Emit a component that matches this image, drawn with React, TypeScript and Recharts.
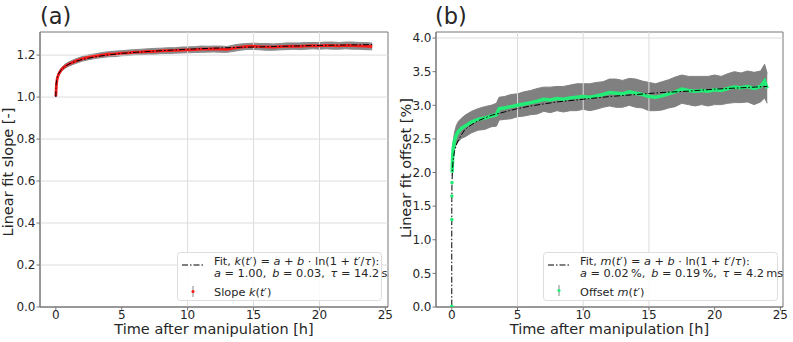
import React from 'react';
import {
  ComposedChart,
  Line,
  Area,
  Scatter,
  XAxis,
  YAxis,
  ReferenceLine,
  ReferenceArea,
} from 'recharts';

const FONT = '"DejaVu Sans", Verdana, sans-serif';

// ---------- shared axis ticks ----------
const xTicks = [0, 5, 10, 15, 20, 25];
const yTicksA = [0, 0.2, 0.4, 0.6, 0.8, 1.0, 1.2];
const yTicksB = [0, 0.5, 1.0, 1.5, 2.0, 2.5, 3.0, 3.5, 4.0];
const xDomain: [number, number] = [-1.2, 25.2];
const yDomainA: [number, number] = [0, 1.31];
const yDomainB: [number, number] = [0, 4.09];

// ---------- panel (a): slope k(t') ----------
const timeA = [0, 0.05, 0.1, 0.2, 0.35, 0.5, 0.75, 1, 1.5, 2, 2.5, 3, 3.5, 4, 4.5, 5, 5.5, 6, 6.5, 7, 7.5, 8, 8.5, 9, 9.5, 10, 10.5, 11, 11.5, 12, 12.5, 13, 13.5, 14, 14.5, 15, 15.5, 16, 16.5, 17, 17.5, 18, 18.5, 19, 19.5, 20, 20.5, 21, 21.5, 22, 22.5, 23, 23.5, 24];
const slopeA = [1.003, 1.062, 1.086, 1.107, 1.124, 1.136, 1.149, 1.158, 1.171, 1.182, 1.19, 1.195, 1.2, 1.204, 1.206, 1.209, 1.211, 1.214, 1.215, 1.217, 1.218, 1.22, 1.221, 1.222, 1.224, 1.225, 1.226, 1.228, 1.228, 1.229, 1.228, 1.227, 1.233, 1.238, 1.241, 1.242, 1.24, 1.239, 1.238, 1.24, 1.242, 1.243, 1.242, 1.244, 1.245, 1.244, 1.246, 1.245, 1.244, 1.246, 1.245, 1.244, 1.243, 1.241];
const slopeErrA = [0.004, 0.006, 0.007, 0.008, 0.009, 0.009, 0.01, 0.01, 0.011, 0.011, 0.012, 0.011, 0.012, 0.012, 0.013, 0.012, 0.013, 0.012, 0.013, 0.013, 0.014, 0.013, 0.014, 0.013, 0.014, 0.014, 0.014, 0.015, 0.014, 0.014, 0.015, 0.014, 0.015, 0.015, 0.014, 0.015, 0.015, 0.016, 0.015, 0.015, 0.016, 0.015, 0.016, 0.016, 0.015, 0.016, 0.016, 0.017, 0.016, 0.016, 0.017, 0.016, 0.017, 0.016];
const fitTimeA = [0, 0.01, 0.03, 0.06, 0.1, 0.2, 0.35, 0.5, 0.75, 1, 1.5, 2, 3, 4, 5, 6, 8, 10, 12, 14, 16, 18, 20, 22, 24];
const fitA = [1.0, 1.04, 1.065, 1.08, 1.092, 1.11, 1.125, 1.135, 1.148, 1.157, 1.17, 1.179, 1.192, 1.201, 1.208, 1.213, 1.221, 1.228, 1.233, 1.237, 1.24, 1.243, 1.246, 1.248, 1.25];

// ---------- panel (b): offset m(t') ----------
const timeB = [0.03, 0.06, 0.1, 0.2, 0.35, 0.5, 0.75, 1, 1.5, 2, 2.5, 3, 3.4, 3.6, 4, 4.5, 5, 5.5, 6, 6.5, 7, 7.5, 8, 8.5, 9, 9.5, 10, 10.5, 11, 11.5, 12, 12.5, 13, 13.5, 14, 14.5, 15, 15.5, 16, 16.5, 17, 17.5, 18, 18.5, 19, 19.5, 20, 20.5, 21, 21.5, 22, 22.5, 23, 23.5, 23.8, 24];
const offsetB = [2.0, 2.2, 2.34, 2.47, 2.56, 2.61, 2.66, 2.69, 2.75, 2.79, 2.81, 2.84, 2.86, 2.95, 2.96, 2.98, 3.0, 3.02, 3.04, 3.06, 3.09, 3.08, 3.1, 3.09, 3.11, 3.12, 3.13, 3.12, 3.14, 3.16, 3.19, 3.18, 3.17, 3.2, 3.18, 3.16, 3.13, 3.12, 3.14, 3.17, 3.2, 3.24, 3.22, 3.21, 3.22, 3.21, 3.23, 3.22, 3.25, 3.27, 3.26, 3.28, 3.25, 3.28, 3.36, 3.25];
const offsetErrB = [0.05, 0.08, 0.1, 0.12, 0.14, 0.15, 0.15, 0.16, 0.16, 0.16, 0.17, 0.16, 0.17, 0.17, 0.17, 0.18, 0.17, 0.18, 0.18, 0.19, 0.18, 0.19, 0.18, 0.19, 0.19, 0.2, 0.19, 0.2, 0.2, 0.19, 0.2, 0.21, 0.2, 0.2, 0.21, 0.2, 0.21, 0.2, 0.21, 0.21, 0.22, 0.21, 0.21, 0.22, 0.21, 0.22, 0.22, 0.21, 0.22, 0.23, 0.22, 0.23, 0.24, 0.23, 0.25, 0.22];
const earlyTimeB = [0, 0.0015, 0.006, 0.015];
const earlyOffsetB = [0.01, 1.3, 1.65, 1.85];
const fitTimeB = [0, 0.0005, 0.002, 0.005, 0.01, 0.02, 0.05, 0.1, 0.2, 0.4, 0.7, 1, 1.5, 2, 3, 4, 5, 6, 8, 10, 12, 14, 16, 18, 20, 22, 24];
const fitB = [0.02, 1.15, 1.42, 1.6, 1.73, 1.86, 2.04, 2.17, 2.31, 2.44, 2.55, 2.64, 2.71, 2.77, 2.85, 2.9, 2.95, 2.99, 3.05, 3.09, 3.13, 3.16, 3.19, 3.21, 3.24, 3.26, 3.28];

// ---------- tables built from the arrays ----------
const rowsA = timeA.map((t, i) => ({ t, v: slopeA[i], band: [slopeA[i] - slopeErrA[i], slopeA[i] + slopeErrA[i]] }));
const fitRowsA = fitTimeA.map((t, i) => ({ t, fit: fitA[i] }));
const rowsB = timeB.map((t, i) => ({ t, v: offsetB[i], band: [offsetB[i] - offsetErrB[i], offsetB[i] + offsetErrB[i]] }));
const earlyRowsB = earlyTimeB.map((t, i) => ({ t, v: earlyOffsetB[i] }));
const fitRowsB = fitTimeB.map((t, i) => ({ t, fit: fitB[i] }));

const AXIS = '#777777';
const GRID = '#dcdcdc';
const TXT = '#262626';
const GREEN = '#22ee77';
const tickStyle = { fill: TXT, fontSize: 12, fontFamily: FONT };

const SmallDot = (props: any) => (
  <circle cx={props.cx} cy={props.cy} r={1.8} fill={GREEN} />
);

const Panel = ({ rows, fitRows, early, yDomain, yTicks, yWidth, right, color, lineW, errColor, hGrid, vGrid }: any) => (
  <ComposedChart
    width={yWidth === 40 ? 400 : 393}
    height={342}
    data={rows}
    margin={{ top: 32, right, bottom: 0, left: 0 }}
  >
    {hGrid.map((y: number) => (
      <ReferenceLine key={'h' + y} y={y} stroke={GRID} strokeWidth={1} />
    ))}
    {vGrid.map((x: number) => (
      <ReferenceLine key={'v' + x} x={x} stroke={GRID} strokeWidth={1} />
    ))}
    <XAxis
      dataKey="t"
      type="number"
      domain={xDomain}
      ticks={xTicks}
      allowDataOverflow
      height={35}
      tick={tickStyle}
      tickSize={3.5}
      tickMargin={0}
      axisLine={{ stroke: AXIS }}
      tickLine={{ stroke: AXIS }}
    />
    <YAxis
      type="number"
      domain={yDomain}
      ticks={yTicks}
      allowDataOverflow
      width={yWidth}
      tick={tickStyle}
      tickSize={3.5}
      tickMargin={1}
      tickFormatter={(v: number) => v.toFixed(1)}
      axisLine={{ stroke: AXIS }}
      tickLine={{ stroke: AXIS }}
    />
    <Area
      dataKey="band"
      type="linear"
      stroke={errColor}
      strokeWidth={1}
      fill={errColor}
      fillOpacity={1}
      isAnimationActive={false}
      dot={false}
      activeDot={false}
    />
    <Line
      dataKey="v"
      type="linear"
      stroke={color}
      strokeWidth={lineW}
      dot={false}
      activeDot={false}
      isAnimationActive={false}
    />
    {early ? (
      <Scatter data={early} dataKey="v" fill={color} shape={SmallDot} isAnimationActive={false} />
    ) : null}
    <Line
      data={fitRows}
      dataKey="fit"
      type="linear"
      stroke="#000000"
      strokeWidth={1}
      strokeDasharray="6 2 1.5 2"
      dot={false}
      activeDot={false}
      isAnimationActive={false}
    />
    <ReferenceArea
      x1={xDomain[0]}
      x2={xDomain[1]}
      y1={yDomain[0]}
      y2={yDomain[1]}
      fill="none"
      stroke={AXIS}
      strokeWidth={1}
      ifOverflow="visible"
    />
  </ComposedChart>
);

const it = { fontStyle: 'italic' as const };
const LFS = 11.3;

const Overlay = () => (
  <svg
    width={793}
    height={342}
    style={{ position: 'absolute', left: 0, top: 0, pointerEvents: 'none', fontFamily: FONT }}
  >
    {/* panel titles */}
    <text x={40} y={23.5} fontSize={22.5} fill={TXT}>(a)</text>
    <text x={435} y={23.5} fontSize={22.5} fill={TXT}>(b)</text>
    {/* x labels */}
    <text x={214} y={333.5} fontSize={14.5} fill={TXT} textAnchor="middle">Time after manipulation [h]</text>
    <text x={609.5} y={333.5} fontSize={14.5} fill={TXT} textAnchor="middle">Time after manipulation [h]</text>
    {/* y labels */}
    <text x={12.5} y={172} fontSize={14.5} fill={TXT} textAnchor="middle" transform="rotate(-90 12.5 172)">Linear fit slope [-]</text>
    <text x={410.5} y={168} fontSize={14.5} fill={TXT} textAnchor="middle" transform="rotate(-90 410.5 168)">Linear fit offset [%]</text>

    {/* legend (a) */}
    <rect x={177.5} y={252.5} width={204} height={48} rx={3} fill="#ffffff" fillOpacity={0.85} stroke="#dddddd" />
    <line x1={182} y1={265} x2={204} y2={265} stroke="#000" strokeWidth={1} strokeDasharray="6 2 1.5 2" />
    <text x={214} y={264.5} fontSize={LFS} fill={TXT} style={{ whiteSpace: 'pre' }}>
      {'Fit, '}<tspan {...it}>k</tspan>{'('}<tspan {...it}>t</tspan>{'′) = '}<tspan {...it}>a</tspan>{' + '}<tspan {...it}>b</tspan>{' · ln(1 + '}<tspan {...it}>t</tspan>{'′/'}<tspan {...it}>τ</tspan>{'):'}
    </text>
    <text x={214} y={276.5} fontSize={LFS} fill={TXT} style={{ whiteSpace: 'pre' }}>
      <tspan {...it}>a</tspan>{' = 1.00, \u2009'}<tspan {...it}>b</tspan>{' = 0.03, \u2009'}<tspan {...it}>τ</tspan>{' = 14.2\u2009s'}
    </text>
    <line x1={193} y1={286} x2={193} y2={297} stroke="#888" strokeWidth={1} />
    <circle cx={193} cy={291.5} r={1.6} fill="#ff1a1a" />
    <text x={214} y={296} fontSize={LFS} fill={TXT} style={{ whiteSpace: 'pre' }}>
      {'Slope '}<tspan {...it}>k</tspan>{'('}<tspan {...it}>t</tspan>{'′)'}
    </text>

    {/* legend (b) */}
    <rect x={543.5} y={252.5} width={234} height={48} rx={3} fill="#ffffff" fillOpacity={0.85} stroke="#dddddd" />
    <line x1={548} y1={265} x2={571} y2={265} stroke="#000" strokeWidth={1} strokeDasharray="6 2 1.5 2" />
    <text x={580} y={264.5} fontSize={LFS} fill={TXT} style={{ whiteSpace: 'pre' }}>
      {'Fit, '}<tspan {...it}>m</tspan>{'('}<tspan {...it}>t</tspan>{'′) = '}<tspan {...it}>a</tspan>{' + '}<tspan {...it}>b</tspan>{' · ln(1 + '}<tspan {...it}>t</tspan>{'′/'}<tspan {...it}>τ</tspan>{'):'}
    </text>
    <text x={580} y={276.5} fontSize={LFS} fill={TXT} style={{ whiteSpace: 'pre' }}>
      <tspan {...it}>a</tspan>{' = 0.02\u2009%, \u2009'}<tspan {...it}>b</tspan>{' = 0.19\u2009%, \u2009'}<tspan {...it}>τ</tspan>{' = 4.2\u2009ms'}
    </text>
    <line x1={559} y1={285} x2={559} y2={296} stroke="#888" strokeWidth={1} />
    <circle cx={559} cy={290.5} r={1.6} fill={GREEN} />
    <text x={580} y={296} fontSize={LFS} fill={TXT} style={{ whiteSpace: 'pre' }}>
      {'Offset '}<tspan {...it}>m</tspan>{'('}<tspan {...it}>t</tspan>{'′)'}
    </text>
  </svg>
);

export default function App() {
  return (
    <div style={{ position: 'absolute', left: 0, top: 0, width: 793, height: 342, background: '#ffffff', fontFamily: FONT }}>
      <div style={{ position: 'absolute', left: 0, top: 0 }}>
        <Panel
          rows={rowsA}
          fitRows={fitRowsA}
          early={null}
          yDomain={yDomainA}
          yTicks={yTicksA}
          yWidth={40}
          right={12}
          color="#ff1a1a"
          lineW={2.8}
          errColor="#8a8a8a"
          hGrid={[0.2, 0.4, 0.6, 0.8, 1.0, 1.2]}
          vGrid={[10, 15, 20]}
        />
      </div>
      <div style={{ position: 'absolute', left: 400, top: 0 }}>
        <Panel
          rows={rowsB}
          fitRows={fitRowsB}
          early={earlyRowsB}
          yDomain={yDomainB}
          yTicks={yTicksB}
          yWidth={36}
          right={10}
          color={GREEN}
          lineW={3.5}
          errColor="#808080"
          hGrid={[4.0]}
          vGrid={[5, 10, 15]}
        />
      </div>
      <Overlay />
    </div>
  );
}
